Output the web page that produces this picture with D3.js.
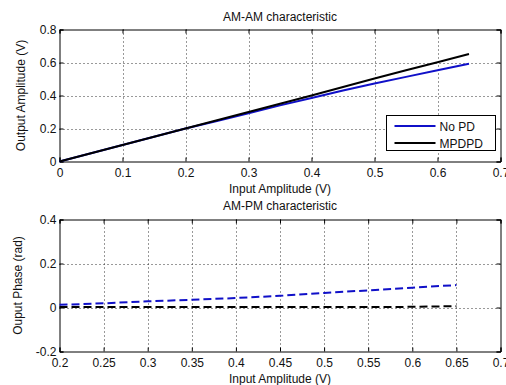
<!DOCTYPE html>
<html>
<head>
<script src="https://d3js.org/d3.v7.min.js"></script>
<style>
  body { margin: 0; background: #fff; }
  text { font-family: "Liberation Sans", Arial, sans-serif; fill: #111; }
</style>
</head>
<body>
<div id="chart"></div>
<script>
// AM-AM data
const amX = [0, 0.05, 0.1, 0.15, 0.2, 0.25, 0.3, 0.35, 0.4, 0.45, 0.5, 0.55, 0.6, 0.65];
const amNoPD = [0, 0.05, 0.1, 0.15, 0.2, 0.245, 0.292, 0.34, 0.385, 0.43, 0.473, 0.513, 0.553, 0.592];
const amMPDPD = [0, 0.05, 0.1, 0.15, 0.2, 0.25, 0.3, 0.35, 0.4, 0.452, 0.503, 0.553, 0.602, 0.651];

// AM-PM data
const pmX = [0.2, 0.25, 0.3, 0.35, 0.4, 0.45, 0.5, 0.55, 0.6, 0.65];
const pmNoPD = [0.012, 0.019, 0.028, 0.035, 0.043, 0.053, 0.066, 0.078, 0.09, 0.102];
const pmMPDPD = [0.002, 0.002, 0.002, 0.002, 0.002, 0.002, 0.002, 0.002, 0.003, 0.006];

const amXTicks = [0, 0.1, 0.2, 0.3, 0.4, 0.5, 0.6, 0.7];
const amYTicks = [0, 0.2, 0.4, 0.6, 0.8];
const pmXTicks = [0.2, 0.25, 0.3, 0.35, 0.4, 0.45, 0.5, 0.55, 0.6, 0.65, 0.7];
const pmYTicks = [-0.2, 0, 0.2, 0.4];

const W = 506, H = 385;
const FS = 12;
const svg = d3.select("#chart").append("svg").attr("width", W).attr("height", H);

function fmt(v) { return v === 0 ? "0" : String(+v.toFixed(2)); }

function panel(opts) {
    const x = d3.scaleLinear().domain(opts.xDomain).range([59.5, 500.5]);
    const y = d3.scaleLinear().domain(opts.yDomain).range([opts.bottom, opts.top]);
    const g = svg.append("g");

    // grid
    g.append("g").selectAll("line").data(opts.xTicks.slice(1, -1)).join("line")
        .attr("x1", d => Math.round(x(d)) + 0.5).attr("x2", d => Math.round(x(d)) + 0.5)
        .attr("y1", opts.top).attr("y2", opts.bottom)
        .attr("stroke", "#333").attr("stroke-width", 1).attr("stroke-dasharray", "1,3");
    g.append("g").selectAll("line").data(opts.yTicks.slice(1, -1)).join("line")
        .attr("y1", d => Math.round(y(d)) + 0.5).attr("y2", d => Math.round(y(d)) + 0.5)
        .attr("x1", x.range()[0]).attr("x2", x.range()[1])
        .attr("stroke", "#333").attr("stroke-width", 1).attr("stroke-dasharray", "1,3");

    // axes
    g.append("g").attr("transform", `translate(0,${opts.bottom})`)
        .call(d3.axisBottom(x).tickValues(opts.xTicks).tickSize(-4).tickPadding(7).tickFormat(fmt));
    g.append("g").attr("transform", `translate(${x.range()[0]},0)`)
        .call(d3.axisLeft(y).tickValues(opts.yTicks).tickSize(-4).tickPadding(3).tickFormat(fmt));
    g.append("g").attr("transform", `translate(0,${opts.top})`)
        .call(d3.axisTop(x).tickValues(opts.xTicks).tickSize(-4).tickFormat(""));
    g.append("g").attr("transform", `translate(${x.range()[1]},0)`)
        .call(d3.axisRight(y).tickValues(opts.yTicks).tickSize(-4).tickFormat(""));
    g.selectAll(".domain").attr("stroke", "#000");
    g.selectAll(".tick line").attr("stroke", "#000");
    g.selectAll(".tick text").attr("font-size", FS).attr("font-family", "Liberation Sans, Arial, sans-serif").attr("fill", "#111");

    // lines
    const line = (xs, ys) => d3.line().x((d, i) => x(xs[i])).y(d => y(d))(ys);
    opts.series.forEach(s => {
        g.append("path").attr("d", line(opts.xs, s.values))
            .attr("fill", "none").attr("stroke", s.color).attr("stroke-width", 2)
            .attr("stroke-dasharray", s.dash || null);
    });

    // labels
    g.append("text").attr("x", 280).attr("y", opts.top - opts.titleGap).attr("text-anchor", "middle")
        .attr("font-size", FS).text(opts.title);
    g.append("text").attr("x", 280).attr("y", opts.bottom + 31).attr("text-anchor", "middle")
        .attr("font-size", FS).text(opts.xLabel);
    g.append("text").attr("transform", `translate(${opts.yLabelX},${(opts.top + opts.bottom) / 2}) rotate(-90)`)
        .attr("text-anchor", "middle").attr("font-size", FS).text(opts.yLabel);
    return { x, y, g };
}

panel({
    xDomain: [0, 0.7], yDomain: [0, 0.8], top: 29.5, bottom: 161.5,
    xTicks: amXTicks, yTicks: amYTicks, xs: amX,
    series: [{ values: amNoPD, color: "#1010c8" }, { values: amMPDPD, color: "#000" }],
    title: "AM-AM characteristic", titleGap: 9, xLabel: "Input Amplitude (V)",
    yLabel: "Output Amplitude (V)", yLabelX: 25
});

panel({
    xDomain: [0.2, 0.7], yDomain: [-0.2, 0.4], top: 219.5, bottom: 351.5,
    xTicks: pmXTicks, yTicks: pmYTicks, xs: pmX,
    series: [{ values: pmNoPD, color: "#1010c8", dash: "8,4" }, { values: pmMPDPD, color: "#000", dash: "8,4" }],
    title: "AM-PM characteristic", titleGap: 10, xLabel: "Input Amplitude (V)",
    yLabel: "Ouput Phase (rad)", yLabelX: 22
});

// legend
const lg = svg.append("g").attr("transform", "translate(386.5,115.5)");
lg.append("rect").attr("width", 109).attr("height", 35).attr("fill", "#fff").attr("stroke", "#000");
const legendNames = ["No PD", "MPDPD"];
const legendColors = ["#1010c8", "#000"];
legendNames.forEach((n, i) => {
    const yy = 10.5 + i * 17;
    lg.append("line").attr("x1", 8).attr("x2", 49).attr("y1", yy).attr("y2", yy)
        .attr("stroke", legendColors[i]).attr("stroke-width", 2);
    lg.append("text").attr("x", 53).attr("y", yy + 4.5).attr("font-size", FS).text(n);
});
</script>
</body>
</html>
